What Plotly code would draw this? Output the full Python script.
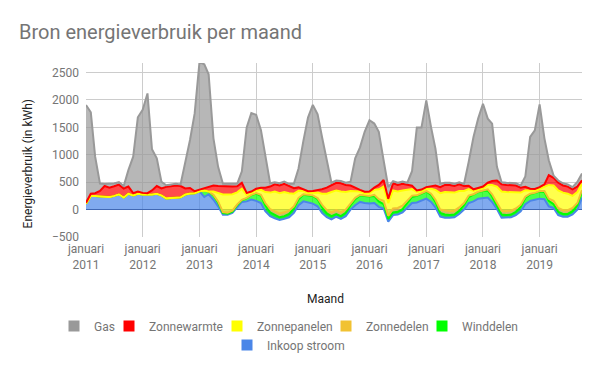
import plotly.graph_objects as go

years = list(range(2011, 2020))
months = [f"{y}-{m:02d}-01" for y in years for m in range(1, 13)][:106]

tick_dates = [f"{y}-01-01" for y in years]
tick_labels = [f"januari<br>{y}" for y in years]

inkoop_stroom = (
    [105, 250, 250, 245, 240, 230, 250, 280, 220, 290, 260, 290]
    + [275, 270, 275, 290, 260, 205, 215, 220, 225, 275, 295, 300]
    + [335, 230, 280, 180, 60, -95, -95, -60, 50, 140, 150, 185]
    + [160, 120, -30, -120, -160, -190, -170, -140, -60, 80, 150, 130]
    + [110, 60, -60, -140, -180, -130, -170, -120, 0, 80, 140, 120]
    + [110, 120, 50, 20, -220, -100, -90, -50, 40, 120, 130, 170]
    + [200, 140, 40, -130, -150, -150, -140, -80, 0, 120, 150, 200]
    + [210, 220, 140, 10, -150, -150, -140, -100, -30, 100, 160, 180]
    + [200, 190, 60, 30, -100, -130, -130, -90, 0, 220]
)
winddelen = (
    [0] * 12 + [0] * 12
    + [0, 120, 50, 80, 70, 30, 20, 20, 30, 30, 60, 80]
    + [130, 130, 110, 70, 60, 50, 50, 60, 80, 110, 120, 130]
    + [140, 130, 110, 70, 60, 50, 50, 60, 80, 110, 120, 130]
    + [130, 130, 100, 80, 50, 50, 50, 60, 80, 110, 120, 120]
    + [130, 130, 100, 70, 60, 50, 50, 60, 80, 110, 120, 120]
    + [130, 130, 100, 70, 60, 50, 50, 60, 80, 110, 120, 120]
    + [130, 130, 100, 70, 60, 50, 50, 60, 80, 110]
)
zonnedelen = (
    [0] * 12 + [0] * 12
    + [0, 0, 0, 10, 20, 20, 20, 20, 15, 10, 5, 5]
    + [10, 20, 40, 60, 70, 70, 70, 60, 40, 25, 10, 5]
    + [10, 20, 40, 60, 70, 70, 70, 60, 40, 25, 10, 5]
    + [10, 20, 40, 60, 60, 70, 70, 60, 40, 25, 10, 5]
    + [10, 20, 40, 60, 70, 70, 70, 60, 40, 25, 10, 5]
    + [10, 20, 40, 60, 70, 70, 70, 60, 40, 25, 10, 5]
    + [10, 20, 40, 60, 70, 70, 70, 60, 40, 25]
)
zonnepanelen = (
    [0] * 12 + [0] * 12
    + [0, 0, 0, 60, 150, 320, 330, 300, 220, 200, 50, 30]
    + [50, 90, 200, 300, 360, 370, 370, 320, 230, 130, 60, 40]
    + [50, 100, 200, 300, 370, 360, 380, 320, 220, 120, 60, 40]
    + [50, 90, 180, 260, 230, 330, 300, 280, 200, 120, 60, 40]
    + [40, 90, 180, 300, 340, 350, 330, 300, 220, 120, 60, 40]
    + [40, 80, 170, 280, 350, 350, 340, 300, 220, 120, 60, 40]
    + [40, 80, 250, 280, 320, 320, 300, 220, 200, 120]
)
zonnewarmte = (
    [20, 40, 50, 95, 190, 170, 175, 175, 165, 130, 40, 40]
    + [30, 30, 75, 140, 125, 210, 210, 220, 205, 110, 100, 35]
    + [30, 40, 80, 110, 130, 150, 150, 140, 110, 110, 40, 30]
    + [30, 40, 80, 110, 130, 140, 150, 130, 100, 60, 30, 30]
    + [30, 40, 80, 110, 130, 140, 150, 130, 100, 60, 30, 30]
    + [30, 40, 80, 120, 80, 130, 120, 120, 90, 60, 30, 30]
    + [30, 40, 80, 110, 130, 130, 120, 120, 90, 60, 30, 30]
    + [30, 40, 70, 110, 130, 130, 130, 120, 90, 60, 30, 30]
    + [30, 40, 180, 140, 140, 130, 130, 120, 100, 60]
)
gas = (
    [1785, 1485, 665, 135, 35, 65, 50, 45, 45, 300, 665, 1355]
    + [1515, 1820, 750, 505, 120, 30, 30, 30, 30, 455, 875, 1420]
    + [2325, 2260, 2060, 860, 350, 45, 45, 50, 45, 210, 1195, 1430]
    + [1350, 1050, 600, 60, 40, 40, 40, 40, 80, 345, 880, 1345]
    + [1570, 1390, 960, 500, 40, 40, 40, 40, 70, 540, 775, 1095]
    + [1300, 1170, 970, 360, 210, 40, 40, 40, 40, 265, 1150, 1135]
    + [1580, 1080, 670, 60, 40, 40, 40, 40, 40, 435, 955, 1265]
    + [1510, 1170, 1050, 250, 40, 40, 40, 40, 40, 190, 945, 1070]
    + [1510, 840, 270, 40, 40, 40, 40, 40, 85, 125]
)

# bottom of stack first
series = [
    ("Inkoop stroom", inkoop_stroom, "#4a86e8", "rgba(74,134,232,0.7)"),
    ("Winddelen", winddelen, "#00ff00", "rgba(0,255,0,0.7)"),
    ("Zonnedelen", zonnedelen, "#f1c232", "rgba(241,194,50,0.7)"),
    ("Zonnepanelen", zonnepanelen, "#ffff00", "rgba(255,255,0,0.7)"),
    ("Zonnewarmte", zonnewarmte, "#ff0000", "rgba(255,0,0,0.7)"),
    ("Gas", gas, "#999999", "rgba(153,153,153,0.7)"),
]

fig = go.Figure()
for name, vals, line_c, fill_c in series:
    fig.add_trace(go.Scatter(
        x=months, y=vals, name=name, mode="lines", stackgroup="one",
        line=dict(color=line_c, width=2), fillcolor=fill_c,
        showlegend=False, hoverinfo="skip",
    ))

# the page body adds an 8px margin, so the figure is sized/positioned to compensate
OFF = 8
W, H = 600 - 2 * OFF, 371 - 2 * OFF
L, R, T, B = 85.7 - OFF, W - (581.7 - OFF), 62.7 - OFF, H - (237 - OFF)

legend_pos = [
    ("Gas", 54, 326),
    ("Zonnewarmte", 109, 326),
    ("Zonnepanelen", 217, 326),
    ("Zonnedelen", 326, 326),
    ("Winddelen", 422, 326),
    ("Inkoop stroom", 227, 345),
]
colors = {n: c for n, _, c, _ in series}
legends = {}
for i, (n, lx, ly) in enumerate(legend_pos):
    key = "legend" if i == 0 else f"legend{i + 1}"
    fig.add_trace(go.Scatter(
        x=[None], y=[None], mode="markers", name=n,
        marker=dict(symbol="square", size=11, color=colors[n]),
        legend=key,
    ))
    legends[key] = dict(
        orientation="h", xref="container", yref="container",
        x=(lx - OFF) / W, xanchor="left", y=1 - (ly - OFF) / H, yanchor="middle",
        font=dict(size=12, color="#757575"), itemwidth=30,
        bgcolor="rgba(0,0,0,0)", borderwidth=0,
    )

fig.update_layout(
    width=W, height=H,
    margin=dict(l=L, r=R, t=T, b=B, autoexpand=False),
    paper_bgcolor="white", plot_bgcolor="white",
    font=dict(family="Roboto", size=12, color="#757575"),
    title=dict(text="Bron energieverbruik per maand", x=0, xref="container",
               xanchor="left", font=dict(size=20, color="#757575"),
               y=1 - (32 - OFF) / H, yref="container", yanchor="middle",
               pad=dict(l=19 - OFF)),
    showlegend=True,
    xaxis=dict(type="date", range=["2011-01-01", "2019-10-01"],
               tickvals=tick_dates, ticktext=tick_labels, automargin=False,
               showgrid=True, gridcolor="#cccccc", gridwidth=1,
               zeroline=False, showline=False, ticks="", ticklabelstandoff=3),
    yaxis=dict(range=[-500, 2675], tickvals=[-500, 0, 500, 1000, 1500, 2000, 2500],
               automargin=False,
               showgrid=True, gridcolor="#cccccc", gridwidth=1,
               zeroline=True, zerolinecolor="#3b5998", zerolinewidth=1,
               showline=False, ticks="", ticklabelstandoff=6),
    **legends,
)

pw, ph = W - L - R, H - T - B
def px_ann(text, x, y, **kw):
    x, y = x - OFF, y - OFF
    return dict(text=text, x=(x - L) / pw, y=(H - B - y) / ph,
                xref="paper", yref="paper", xanchor="center", yanchor="middle",
                showarrow=False, **kw)

fig.update_layout(annotations=[
    px_ann("Energieverbruik (in kWh)", 28, 164, textangle=-90,
           font=dict(size=12, color="#222222")),
    px_ann("Maand", 325, 299, font=dict(size=12, color="#222222")),
])

fig.write_html("out.html")
